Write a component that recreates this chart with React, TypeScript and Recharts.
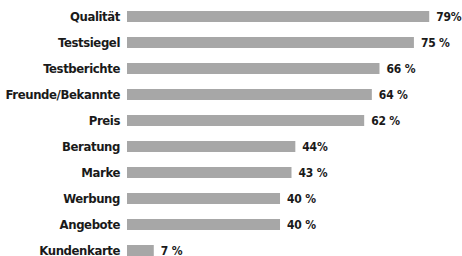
import { BarChart, Bar, XAxis, YAxis, LabelList } from "recharts";

const categories = [
  "Qualität",
  "Testsiegel",
  "Testberichte",
  "Freunde/Bekannte",
  "Preis",
  "Beratung",
  "Marke",
  "Werbung",
  "Angebote",
  "Kundenkarte",
];
const values = [79, 75, 66, 64, 62, 44, 43, 40, 40, 7];
const valueLabels = ["79%", "75 %", "66 %", "64 %", "62 %", "44%", "43 %", "40 %", "40 %", "7 %"];

const data = categories.map((name, i) => ({ name, value: values[i], label: valueLabels[i] }));

const font = "'DejaVu Sans Condensed', 'DejaVu Sans', sans-serif";

export default function App() {
  return (
    <div style={{ position: "absolute", left: 0, top: 0, width: 462, height: 263 }}>
      <BarChart
        width={462}
        height={263}
        data={data}
        layout="vertical"
        margin={{ top: 3, right: 6, left: 0, bottom: 0 }}
        barCategoryGap={0}
      >
        <XAxis type="number" hide domain={[0, 86]} />
        <YAxis
          type="category"
          dataKey="name"
          width={127}
          axisLine={false}
          tickLine={false}
          tickSize={0}
          tickMargin={7}
          interval={0}
          tick={{ fill: "#1a1a1a", fontSize: 13, fontWeight: 700, fontFamily: font, letterSpacing: -0.4 }}
        />
        <Bar dataKey="value" fill="#a7a7a7" barSize={11} isAnimationActive={false}>
          <LabelList
            dataKey="label"
            position="right"
            offset={7}
            style={{ fill: "#1a1a1a", fontSize: 12, fontWeight: 700, fontFamily: font, letterSpacing: -0.2 }}
          />
        </Bar>
      </BarChart>
    </div>
  );
}
